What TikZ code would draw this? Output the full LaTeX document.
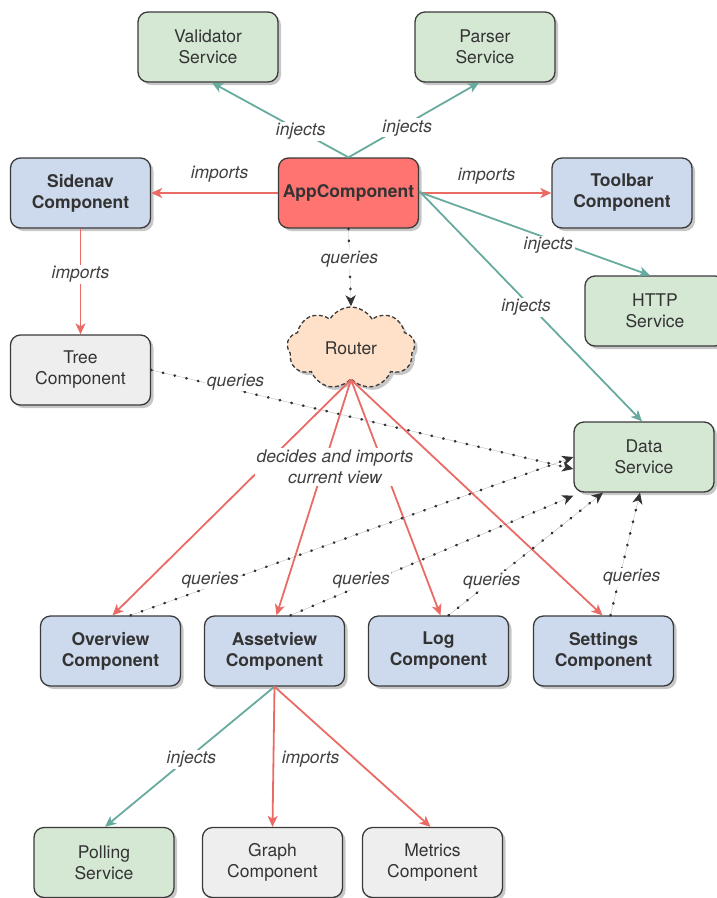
\documentclass[tikz,border=0pt]{standalone}
\usepackage{fontspec}
\setmainfont{TeX Gyre Heros}
\usetikzlibrary{arrows.meta,shapes.symbols,shadows}

\definecolor{boxline}{HTML}{3A3A3A}
\definecolor{txt}{HTML}{333333}
\definecolor{lbltxt}{HTML}{404040}
\definecolor{svcfill}{HTML}{D5E8D4}
\definecolor{cmpfill}{HTML}{CDD9EC}
\definecolor{plainfill}{HTML}{EEEEEE}
\definecolor{appfill}{HTML}{FF7370}
\definecolor{cloudfill}{HTML}{FFE0C8}
\definecolor{impline}{HTML}{EA6B66}
\definecolor{injline}{HTML}{67AB9F}
\definecolor{qline}{HTML}{333333}

\begin{document}
\begin{tikzpicture}[x=1pt,y=-1pt,
  base/.style={draw=boxline, line width=1.3pt, rounded corners=10pt,
    minimum width=140pt, minimum height=70pt, align=center, text=txt,
    font=\fontsize{17.5}{21}\selectfont,
    drop shadow={shadow xshift=3pt, shadow yshift=-3pt, opacity=0.22, fill=black}},
  svc/.style={base, fill=svcfill},
  cmp/.style={base, fill=cmpfill, font=\fontsize{17.5}{21}\selectfont\bfseries},
  plain/.style={base, fill=plainfill},
  appbox/.style={base, fill=appfill, font=\fontsize{17.5}{21}\selectfont\bfseries},
  tipstyle/.style={-{Stealth[length=11pt,width=10pt,inset=3pt]}},
  imp/.style={tipstyle, draw=impline, fill=impline, line width=1.8pt},
  inj/.style={tipstyle, draw=injline, fill=injline, line width=1.8pt},
  qry/.style={-{Stealth[length=11pt,width=10pt,inset=3pt]}, draw=qline, fill=qline,
    line width=2.6pt, line cap=round, dash pattern=on 0.5pt off 11.5pt},
  lbl/.style={fill=white, text=lbltxt, inner sep=1.5pt,
    font=\fontsize{17.5}{21}\selectfont\itshape, align=center},
  lblfree/.style={text=lbltxt, inner sep=1.5pt,
    font=\fontsize{17.5}{21}\selectfont\itshape, align=center}
]
\useasboundingbox (0,0) rectangle (716,898);

% --- top row: services injected into the app component
\node[svc] (val) at (208,47) {Validator\\Service};
\node[svc] (par) at (485,47) {Parser\\Service};

% --- second row
\node[cmp] (side) at (80.5,193) {Sidenav\\Component};
\node[appbox] (app) at (348.5,193) {AppComponent};
\node[cmp] (tool) at (622,193) {Toolbar\\Component};

\node[svc] (http) at (655,311) {HTTP\\Service};
\node[plain] (tree) at (80.5,370) {Tree\\Component};

% --- router
\node[cloud, cloud puffs=9, cloud puff arc=120, aspect=1.6,
  draw=boxline, line width=1.3pt, dash pattern=on 4pt off 2.5pt,
  fill=cloudfill, text=txt, font=\fontsize{17.5}{21}\selectfont,
  minimum width=128pt, minimum height=82pt, inner sep=0pt,
  drop shadow={shadow xshift=3pt, shadow yshift=-3pt, opacity=0.22, fill=black}]
  (router) at (351,348) {Router};

\node[svc] (data) at (644,457) {Data\\Service};

% --- views
\node[cmp] (over) at (110.5,651) {Overview\\Component};
\node[cmp] (asset) at (274.5,651) {Assetview\\Component};
\node[cmp] (log) at (438.5,651) {Log\\Component};
\node[cmp] (set) at (603.5,651) {Settings\\Component};

% --- bottom row
\node[svc] (poll) at (104,862.5) {Polling\\Service};
\node[plain] (graph) at (272.5,862.5) {Graph\\Component};
\node[plain] (metr) at (432.5,862.5) {Metrics\\Component};

% --- connectors from the app component
\draw[inj] (app.north) -- node[lbl,pos=0.35]{injects} ([xshift=4pt]val.south);
\draw[inj] (app.north) -- node[lbl,pos=0.45,yshift=-4pt]{injects} ([xshift=-6pt]par.south);
\draw[imp] (app.west) -- node[lblfree,pos=0.46,yshift=19pt]{imports} (side.east);
\draw[imp] (app.east) -- node[lblfree,pos=0.51,yshift=17pt]{imports} (tool.west);
\draw[inj] ([yshift=1pt]app.east) -- node[lbl,pos=0.56,yshift=-7pt]{injects} ([xshift=-5pt]http.north);
\draw[inj] ([yshift=2pt]app.east) -- node[lbl,pos=0.48,yshift=-6pt]{injects} ([xshift=-2pt]data.north);
\draw[qry] (app.south) -- node[lbl,pos=0.39]{queries} (router.north);

\draw[imp] (side.south) -- node[lbl,pos=0.43]{imports} (tree.north);
\draw[qry] (tree.east) -- node[lbl,pos=0.2,yshift=8pt]{queries} ([yshift=-12pt]data.west);

% --- router decides the current view
\draw[imp] (router.south) -- ([xshift=2pt]over.north);
\draw[imp] (router.south) -- ([xshift=2pt]asset.north);
\draw[imp] (router.south) -- ([xshift=2pt]log.north);
\draw[imp] (router.south) -- ([xshift=-1pt]set.north);
\node[lbl] (decide) at (335,467) {decides and imports\\current view};

% --- views query the data service
\draw[qry] ([xshift=20pt]over.north) -- node[lbl,pos=0.18,yshift=7pt]{queries} (data.west);
\draw[qry] ([xshift=16pt]asset.north) -- node[lbl,pos=0.25,yshift=5pt]{queries} ([yshift=-3pt]data.south west);
\draw[qry] ([xshift=10pt]log.north) -- node[lbl,pos=0.28]{queries} ([xshift=-41pt]data.south);
\draw[qry] ([xshift=7pt]set.north) -- node[lbl,pos=0.31,xshift=12pt]{queries} ([xshift=-4pt]data.south);

% --- assetview dependencies
\draw[inj] (asset.south) -- node[lbl,pos=0.49,yshift=-4pt]{injects} ([xshift=1pt]poll.north);
\draw[imp] (asset.south) -- node[lblfree,pos=0.52,anchor=west,xshift=6pt]{imports} (graph.north);
\draw[imp] (asset.south) -- ([xshift=-2pt]metr.north);
\end{tikzpicture}
\end{document}
